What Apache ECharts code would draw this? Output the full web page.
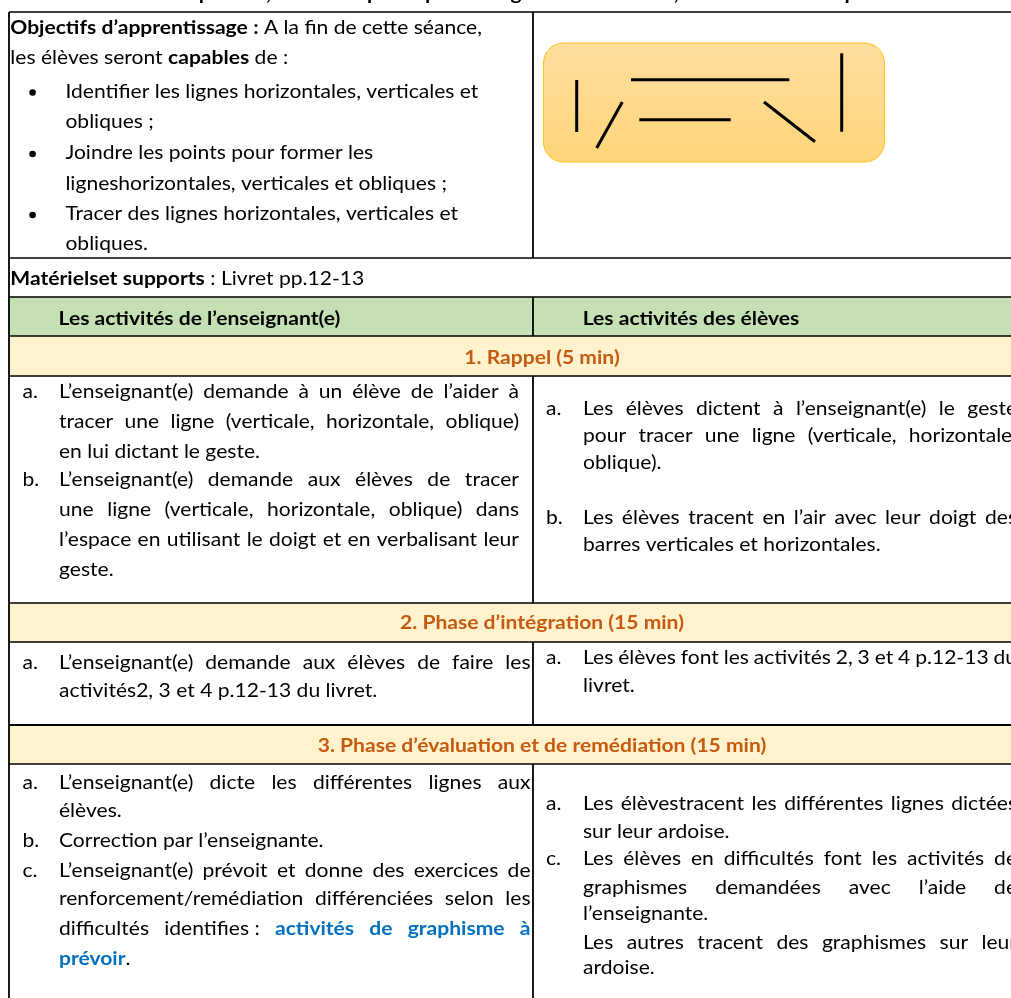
<!DOCTYPE html>
<html><head><meta charset="utf-8">
<script src="https://cdn.jsdelivr.net/npm/echarts@6/dist/echarts.min.js"></script>
<style>html,body{margin:0;padding:0;background:#fff}#c{width:1011px;height:998px}</style>
</head><body><div id="c"></div>
<script>
// ---------- content ----------
const topHeading = "Sous-thème : Graphisme, contenu spécifique : les lignes horizontales, verticales et obliques";
const objectives = ["**Objectifs d’apprentissage :** A la fin de cette séance,", "les élèves seront **capables** de :"];
const objectiveBullets = [
  ["Identifier les lignes horizontales, verticales et", "obliques ;"],
  ["Joindre les points pour former les", "ligneshorizontales, verticales et obliques ;"],
  ["Tracer des lignes horizontales, verticales et", "obliques."]
];
const materials = "**Matérielset supports** : Livret pp.12-13";
const columnHeads = ["Les activités de l’enseignant(e)", "Les activités des élèves"];
const phases = ["1. Rappel (5 min)", "2. Phase d’intégration (15 min)", "3. Phase d’évaluation et de remédiation (15 min)"];
const teacherActs = [
  [{label: "a.", paras: [["L’enseignant(e) demande à un élève de l’aider à", "tracer une ligne (verticale, horizontale, oblique)", "en lui dictant le geste."]]},
   {label: "b.", paras: [["L’enseignant(e) demande aux élèves de tracer", "une ligne (verticale, horizontale, oblique) dans", "l’espace en utilisant le doigt et en verbalisant leur", "geste."]]}],
  [{label: "a.", paras: [["L’enseignant(e) demande aux élèves de faire les", "activités2, 3 et 4 p.12-13 du livret."]]}],
  [{label: "a.", paras: [["L’enseignant(e) dicte les différentes lignes aux", "élèves."]]},
   {label: "b.", paras: [["Correction par l’enseignante."]]},
   {label: "c.", paras: [["L’enseignant(e) prévoit et donne des exercices de", "renforcement/remédiation différenciées selon les", "difficultés identifies\u00A0: ~~activités de graphisme à~~", "~~prévoir~~."]]}]
];
const pupilActs = [
  [{label: "a.", paras: [["Les élèves dictent à l’enseignant(e) le geste", "pour tracer une ligne (verticale, horizontale,", "oblique)."]]},
   {label: "b.", paras: [["Les élèves tracent en l’air avec leur doigt des", "barres verticales et horizontales."]]}],
  [{label: "a.", paras: [["Les élèves font les activités 2, 3 et 4 p.12-13 du", "livret."]]}],
  [{label: "a.", paras: [["Les élèvestracent les différentes lignes dictées", "sur leur ardoise."]]},
   {label: "c.", paras: [["Les élèves en difficultés font les activités de", "graphismes demandées avec l’aide de", "l’enseignante."], ["Les autres tracent des graphismes sur leur", "ardoise."]]}]
];

// ---------- layout ----------
const FS = 19, FAM = 'Lato';
const BLUE = '#0070C0', ORANGE = '#C55A11', GREEN = '#C5E0B4', CREAM = '#FFF2CC';
const X = {left: 9, mid: 533, right: 1011, lLabel: 22.5, lText: 59, rLabel: 546, rText: 583, center: 542};
const hLines = [12, 258, 297, 336, 376, 603, 642, 725, 764];
const midSegs = [[12, 258], [297, 336], [376, 603], [642, 725], [764, 998]];
const objBase = [33.5, 64, 97.5, 127.5, 159, 189.5, 220, 250];
const matBase = 285, headBase = 324.5, phaseBase = [363.5, 628.5, 752];
const teacherBase = [[398, 428, 457.5, 486, 516, 546, 576], [668.5, 697], [788.5, 817, 847, 877, 905, 934.5, 964.5]];
const pupilBase = [[414.5, 442, 468.5, 523.5, 551], [663.5, 692], [810, 837.5, 865, 893.5, 920, 948.5, 974]];
const teacherEdge = [519, 530.5, 530.5], pupilEdge = [1017, 1017, 1017];

const ctx = document.createElement('canvas').getContext('2d');
function fontStr(b) { return (b ? 'bold ' : '') + FS + 'px ' + FAM; }
function rawW(s, b) { ctx.font = fontStr(b); return ctx.measureText(s).width; }
const SX = 413 / rawW("Identifier les lignes horizontales, verticales et", false);
function W(s, b) { return rawW(s, b) * SX; }
const MID = 0.32 * FS;

const els = [];
function txt(s, x, base, bold, color) {
  els.push({type: 'text', x: x, y: base - MID, scaleX: SX, silent: true, z: 10,
    style: {text: s, font: fontStr(bold), fill: color || '#000', textAlign: 'left', textVerticalAlign: 'middle', verticalAlign: 'middle'}});
}
function parse(s) {
  const out = [];
  s.split(/(\*\*.*?\*\*|~~.*?~~)/).forEach(p => {
    if (!p) return;
    if (p.startsWith('**')) out.push({t: p.slice(2, -2), bold: true, color: '#000'});
    else if (p.startsWith('~~')) out.push({t: p.slice(2, -2), bold: true, color: BLUE});
    else out.push({t: p, bold: false, color: '#000'});
  });
  return out;
}
function words(s) {
  const ws = [[]];
  parse(s).forEach(sg => {
    sg.t.split(' ').forEach((p, i) => {
      if (i > 0) ws.push([]);
      if (p) ws[ws.length - 1].push({t: p, bold: sg.bold, color: sg.color});
    });
  });
  return ws.filter(w => w.length);
}
function line(s, x, base, edge, center, forceBold, forceColor) {
  const ws = words(s);
  if (forceBold) ws.forEach(w => w.forEach(p => { p.bold = true; if (forceColor) p.color = forceColor; }));
  const wid = ws.map(w => w.reduce((a, p) => a + W(p.t, p.bold), 0));
  const total = wid.reduce((a, b) => a + b, 0);
  let gap = W(' ', !!forceBold);
  if (edge && ws.length > 1) gap = (edge - x - total) / (ws.length - 1);
  if (center) x = center - (total + gap * (ws.length - 1)) / 2;
  let cx = x;
  ws.forEach((w, i) => {
    let px = cx;
    w.forEach(p => { txt(p.t, px, base, p.bold, p.color); px += W(p.t, p.bold); });
    cx += wid[i] + gap;
  });
}
function block(items, bases, labelX, textX, edge) {
  let k = 0;
  items.forEach(it => {
    it.paras.forEach((para, pi) => {
      para.forEach((ln, li) => {
        if (pi === 0 && li === 0) txt(it.label, labelX, bases[k], false);
        line(ln, textX, bases[k], li < para.length - 1 ? edge : null);
        k++;
      });
    });
  });
}

// backgrounds
els.push({type: 'rect', shape: {x: X.left, y: 297, width: X.right - X.left, height: 39}, style: {fill: GREEN}, silent: true, z: 1});
[[336, 376], [603, 642], [725, 764]].forEach(r => els.push({type: 'rect', shape: {x: X.left, y: r[0], width: X.right - X.left, height: r[1] - r[0]}, style: {fill: CREAM}, silent: true, z: 1}));
// borders
hLines.forEach(y => els.push({type: 'line', shape: {x1: X.left, y1: y, x2: X.right, y2: y}, style: {stroke: '#000', lineWidth: y === 725 ? 2.2 : 1.6}, silent: true, z: 5}));
els.push({type: 'line', shape: {x1: X.left, y1: 12, x2: X.left, y2: 998}, style: {stroke: '#000', lineWidth: 1.8}, silent: true, z: 5});
midSegs.forEach(s => els.push({type: 'line', shape: {x1: X.mid, y1: s[0], x2: X.mid, y2: s[1]}, style: {stroke: '#000', lineWidth: 1.8}, silent: true, z: 5}));

// illustration box
els.push({type: 'rect', shape: {x: 543.5, y: 43, width: 341, height: 119, r: 20}, z: 2, silent: true,
  style: {fill: new echarts.graphic.LinearGradient(0, 0, 0, 1, [{offset: 0, color: '#FFDE9F'}, {offset: 1, color: '#FFD579'}]), stroke: '#FFC21A', lineWidth: 1}});
const strokes = [[576.7, 80, 576.7, 132], [622.3, 102, 596.7, 148], [631, 79.7, 789.3, 79.7], [639.3, 119.7, 730.7, 119.7], [764, 102, 815, 141.7], [841.7, 53.3, 841.7, 131.7]];
strokes.forEach(s => els.push({type: 'line', shape: {x1: s[0], y1: s[1], x2: s[2], y2: s[3]}, style: {stroke: '#000', lineWidth: 3}, silent: true, z: 3}));

// texts
line(topHeading, 37, -0.5, null, null, true);
line(objectives[0], 10.3, objBase[0]);
line(objectives[1], 10.3, objBase[1]);
let ob = 2;
objectiveBullets.forEach(b => {
  els.push({type: 'circle', shape: {cx: 32.6, cy: objBase[ob] - 5, r: 3.3}, style: {fill: '#000'}, silent: true, z: 10});
  b.forEach(l => { line(l, 65.4, objBase[ob]); ob++; });
});
line(materials, 10.3, matBase);
line(columnHeads[0], 58.5, headBase, null, null, true);
line(columnHeads[1], 582.7, headBase, null, null, true);
phases.forEach((p, i) => line(p, 0, phaseBase[i], null, X.center, true, ORANGE));
teacherActs.forEach((items, i) => block(items, teacherBase[i], X.lLabel, X.lText, teacherEdge[i]));
pupilActs.forEach((items, i) => block(items, pupilBase[i], X.rLabel, X.rText, pupilEdge[i]));

const chart = echarts.init(document.getElementById('c'), null, {renderer: 'canvas'});
chart.setOption({backgroundColor: '#fff', animation: false, graphic: {elements: els}});
</script></body></html>
